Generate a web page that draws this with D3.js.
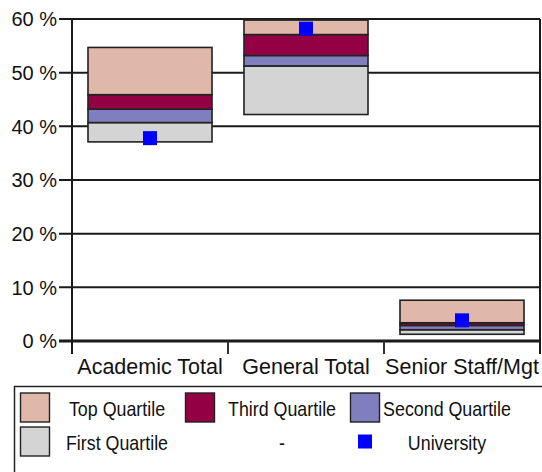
<!DOCTYPE html>
<html>
<head>
<meta charset="utf-8">
<script src="https://cdn.jsdelivr.net/npm/d3@7"></script>
<style>
  body { margin: 0; background: #fff; }
  svg { display: block; }
  .axis text { font-family: "Liberation Sans", Arial, sans-serif; fill: #111; }
  .legend text { font-family: "Liberation Sans", Arial, sans-serif; font-size: 21px; fill: #111; }
</style>
</head>
<body>
<svg id="chart" width="542" height="472"></svg>
<script>
// categories and the quartile boundaries (percent)
var categories = ["Academic Total", "General Total", "Senior Staff/Mgt"];
var minimum    = [37.1, 42.2, 1.25];
var q1Top      = [40.7, 51.25, 2.1];
var q2Top      = [43.2, 53.2, 2.9];
var q3Top      = [45.9, 57.1, 3.4];
var maximum    = [54.7, 59.8, 7.6];
var university = [37.8, 58.2, 3.85];
var yTicks     = [0, 10, 20, 30, 40, 50, 60];

var seriesNames  = ["Top Quartile", "Third Quartile", "Second Quartile", "First Quartile", "-", "University"];
var seriesColors = ["#dfb8aa", "#930043", "#7f7fbf", "#d4d4d4", null, "#0000ff"];

var svg = d3.select("#chart");
var margin = {top: 19, left: 72, right: 2, bottom: 131};
var width = 542 - margin.left - margin.right,
    height = 472 - margin.top - margin.bottom;

var x = d3.scaleBand().domain(categories).range([margin.left, margin.left + width]);
var y = d3.scaleLinear().domain([0, 60]).range([margin.top + height, margin.top]);

// gridlines + y ticks
var yAxis = svg.append("g").attr("class", "axis");
yAxis.selectAll("line.grid")
    .data(yTicks)
  .enter().append("line")
    .attr("x1", margin.left - 13)
    .attr("x2", margin.left + width)
    .attr("y1", function(d) { return y(d); })
    .attr("y2", function(d) { return y(d); })
    .attr("stroke", "#1a1a1a")
    .attr("stroke-width", function(d) { return d == 0 ? 3 : 2; });
yAxis.selectAll("text")
    .data(yTicks)
  .enter().append("text")
    .attr("x", margin.left - 15)
    .attr("y", function(d) { return y(d); })
    .attr("dy", "0.36em")
    .attr("text-anchor", "end")
    .style("font-size", "20px")
    .text(function(d) { return d + " %"; });

// frame lines
svg.append("line")
    .attr("x1", margin.left).attr("x2", margin.left)
    .attr("y1", margin.top).attr("y2", y(0) + 13)
    .attr("stroke", "#1a1a1a").attr("stroke-width", 2);
svg.append("line")
    .attr("x1", margin.left + width).attr("x2", margin.left + width)
    .attr("y1", margin.top).attr("y2", y(0) + 13)
    .attr("stroke", "#1a1a1a").attr("stroke-width", 2);

// x ticks between categories
var xAxis = svg.append("g").attr("class", "axis");
xAxis.selectAll("line")
    .data(categories.slice(1))
  .enter().append("line")
    .attr("x1", function(d) { return x(d); })
    .attr("x2", function(d) { return x(d); })
    .attr("y1", y(0))
    .attr("y2", y(0) + 13)
    .attr("stroke", "#333").attr("stroke-width", 2);
xAxis.selectAll("text")
    .data(categories)
  .enter().append("text")
    .attr("x", function(d) { return x(d) + x.bandwidth() / 2; })
    .attr("y", y(0) + 32.5)
    .attr("text-anchor", "middle")
    .style("font-size", "21.5px")
    .text(function(d) { return d; });

// floating quartile boxes
var segments = [];
categories.forEach(function(c, i) {
    segments.push({cat: c, lo: minimum[i], hi: q1Top[i], color: seriesColors[3]});
    segments.push({cat: c, lo: q1Top[i], hi: q2Top[i], color: seriesColors[2]});
    segments.push({cat: c, lo: q2Top[i], hi: q3Top[i], color: seriesColors[1]});
    segments.push({cat: c, lo: q3Top[i], hi: maximum[i], color: seriesColors[0]});
});

var barW = x.bandwidth() * 0.795;
var barOff = (x.bandwidth() - barW) / 2;

svg.append("g").selectAll("rect")
    .data(segments)
  .enter().append("rect")
    .attr("x", function(d) { return x(d.cat) + barOff; })
    .attr("y", function(d) { return y(d.hi); })
    .attr("width", barW)
    .attr("height", function(d) { return y(d.lo) - y(d.hi); })
    .attr("fill", function(d) { return d.color; })
    .attr("stroke", "#222")
    .attr("stroke-width", 1.6);

// university markers
svg.append("g").selectAll("rect")
    .data(university)
  .enter().append("rect")
    .attr("x", function(d, i) { return x(categories[i]) + x.bandwidth() / 2 - 7; })
    .attr("y", function(d) { return y(d) - 7; })
    .attr("width", 14)
    .attr("height", 14)
    .attr("fill", seriesColors[5]);

// legend
var legend = svg.append("g").attr("class", "legend");
legend.append("rect")
    .attr("x", 14.5).attr("y", 386.5)
    .attr("width", 600).attr("height", 120)
    .attr("fill", "none").attr("stroke", "#222").attr("stroke-width", 1.5);

var item = legend.selectAll("g.item")
    .data(seriesNames)
  .enter().append("g")
    .attr("class", "item")
    .attr("transform", function(d, i) {
        return "translate(" + (20 + (i % 3) * 165) + "," + (393 + Math.floor(i / 3) * 34) + ")";
    });

item.filter(function(d, i) { return i < 4; }).append("rect")
    .attr("x", 0.5).attr("y", 0)
    .attr("width", 29).attr("height", 29)
    .attr("fill", function(d) { return seriesColors[seriesNames.indexOf(d)]; })
    .attr("stroke", "#222").attr("stroke-width", 1.4);

item.filter(function(d) { return d == "University"; }).append("rect")
    .attr("x", 8).attr("y", 7.5)
    .attr("width", 14).attr("height", 14)
    .attr("fill", seriesColors[5]);

// legend font in the original is a narrow face; squeeze it horizontally
item.append("text")
    .attr("transform", "translate(97,15) scale(0.85,1)")
    .attr("dy", "0.36em")
    .attr("text-anchor", "middle")
    .text(function(d) { return d; });
</script>
</body>
</html>
